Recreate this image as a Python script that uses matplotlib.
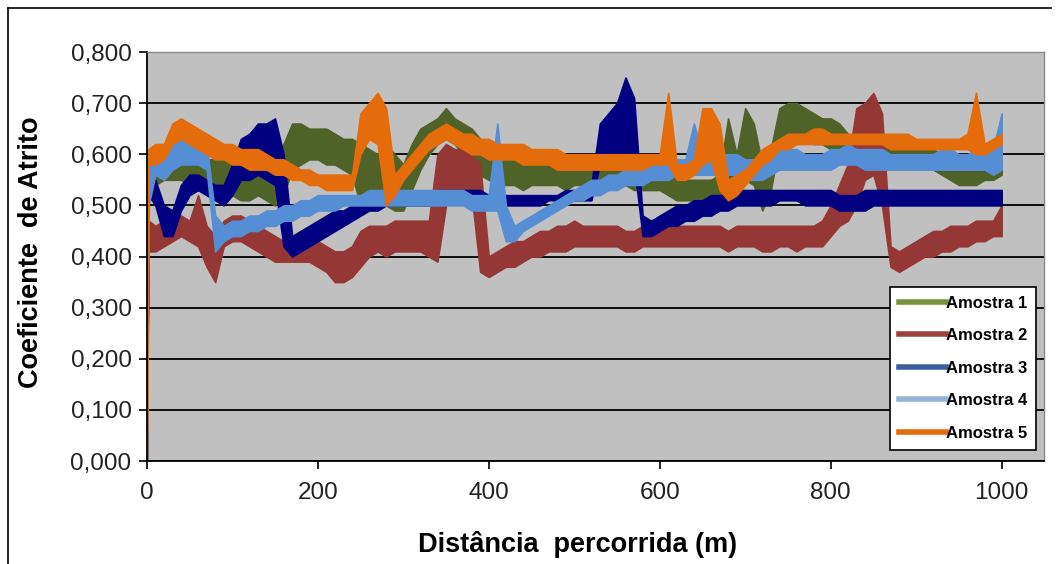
import matplotlib.pyplot as plt
from matplotlib.lines import Line2D
from matplotlib.ticker import FuncFormatter

plt.rcParams['font.family'] = ['Liberation Sans', 'DejaVu Sans']

# distance sampled along the track (m)
distancia = [0, 2, 10, 20, 30, 40, 50, 60, 70, 80, 90, 100,
             110, 120, 130, 140, 150, 160, 170, 180, 190, 200,
             210, 220, 230, 240, 250, 260, 270, 280, 290, 300,
             310, 320, 330, 340, 350, 360, 370, 380, 390, 400,
             410, 420, 430, 440, 450, 460, 470, 480, 490, 500,
             510, 520, 530, 540, 550, 560, 570, 580, 590, 600,
             610, 620, 630, 640, 650, 660, 670, 680, 690, 700,
             710, 720, 730, 740, 750, 760, 770, 780, 790, 800,
             810, 820, 830, 840, 850, 860, 870, 880, 890, 900,
             910, 920, 930, 940, 950, 960, 970, 980, 990, 1000]

# lower / upper edge of the noisy band of each sample
a1_min = [0, 0.52,
          0.54, 0.55, 0.55, 0.55, 0.54, 0.53, 0.53, 0.52, 0.52, 0.52,
          0.51, 0.51, 0.52, 0.51, 0.50, 0.52, 0.57, 0.58, 0.59, 0.59,
          0.58, 0.58, 0.57, 0.56, 0.50, 0.52, 0.50, 0.50, 0.49, 0.49,
          0.53, 0.57, 0.60, 0.62, 0.63, 0.62, 0.60, 0.58, 0.56, 0.55,
          0.54, 0.54, 0.54, 0.53, 0.54, 0.54, 0.54, 0.54, 0.53, 0.54,
          0.54, 0.54, 0.54, 0.54, 0.54, 0.54, 0.53, 0.53, 0.53, 0.53,
          0.52, 0.51, 0.51, 0.51, 0.51, 0.51, 0.51, 0.52, 0.52, 0.55,
          0.54, 0.49, 0.53, 0.62, 0.63, 0.63, 0.63, 0.62, 0.62, 0.61,
          0.60, 0.59, 0.59, 0.59, 0.59, 0.59, 0.59, 0.59, 0.59, 0.59,
          0.58, 0.57, 0.56, 0.55, 0.54, 0.54, 0.54, 0.55, 0.55, 0.56]
a1_max = [0, 0.58,
          0.60, 0.60, 0.61, 0.61, 0.60, 0.60, 0.59, 0.59, 0.59, 0.58,
          0.58, 0.59, 0.58, 0.58, 0.59, 0.62, 0.66, 0.66, 0.65, 0.65,
          0.65, 0.64, 0.63, 0.63, 0.62, 0.61, 0.60, 0.62, 0.60, 0.58,
          0.62, 0.65, 0.66, 0.67, 0.69, 0.67, 0.66, 0.65, 0.63, 0.62,
          0.61, 0.60, 0.60, 0.59, 0.59, 0.59, 0.59, 0.58, 0.58, 0.58,
          0.58, 0.58, 0.58, 0.58, 0.58, 0.57, 0.57, 0.57, 0.57, 0.57,
          0.56, 0.56, 0.55, 0.55, 0.55, 0.55, 0.56, 0.67, 0.60, 0.69,
          0.66, 0.58, 0.61, 0.69, 0.70, 0.70, 0.69, 0.68, 0.67, 0.67,
          0.66, 0.64, 0.63, 0.62, 0.62, 0.62, 0.62, 0.62, 0.62, 0.61,
          0.61, 0.61, 0.60, 0.59, 0.58, 0.58, 0.58, 0.58, 0.59, 0.60]

a2_min = [0, 0.41,
          0.41, 0.42, 0.43, 0.44, 0.43, 0.42, 0.38, 0.35, 0.42, 0.43,
          0.43, 0.42, 0.41, 0.40, 0.39, 0.39, 0.39, 0.39, 0.39, 0.38,
          0.37, 0.35, 0.35, 0.36, 0.38, 0.40, 0.41, 0.40, 0.41, 0.41,
          0.41, 0.41, 0.40, 0.39, 0.50, 0.52, 0.53, 0.52, 0.37, 0.36,
          0.37, 0.38, 0.38, 0.39, 0.40, 0.40, 0.41, 0.41, 0.41, 0.42,
          0.42, 0.42, 0.42, 0.42, 0.42, 0.41, 0.41, 0.42, 0.42, 0.42,
          0.42, 0.42, 0.42, 0.42, 0.42, 0.42, 0.42, 0.41, 0.42, 0.42,
          0.42, 0.41, 0.41, 0.42, 0.42, 0.41, 0.42, 0.42, 0.42, 0.44,
          0.46, 0.47, 0.50, 0.55, 0.56, 0.50, 0.38, 0.37, 0.38, 0.39,
          0.40, 0.40, 0.41, 0.41, 0.42, 0.42, 0.43, 0.43, 0.44, 0.44]
a2_max = [0, 0.47,
          0.46, 0.47, 0.48, 0.48, 0.47, 0.52, 0.46, 0.44, 0.47, 0.48,
          0.48, 0.47, 0.46, 0.45, 0.44, 0.43, 0.43, 0.43, 0.43, 0.43,
          0.42, 0.41, 0.41, 0.42, 0.45, 0.46, 0.46, 0.46, 0.47, 0.47,
          0.47, 0.47, 0.47, 0.60, 0.62, 0.61, 0.61, 0.60, 0.58, 0.40,
          0.41, 0.42, 0.43, 0.43, 0.44, 0.45, 0.45, 0.46, 0.46, 0.47,
          0.46, 0.46, 0.46, 0.46, 0.46, 0.45, 0.45, 0.46, 0.46, 0.46,
          0.46, 0.46, 0.46, 0.46, 0.46, 0.46, 0.46, 0.45, 0.46, 0.46,
          0.46, 0.46, 0.46, 0.46, 0.46, 0.46, 0.46, 0.46, 0.47, 0.50,
          0.54, 0.58, 0.69, 0.70, 0.72, 0.68, 0.42, 0.41, 0.42, 0.43,
          0.44, 0.45, 0.45, 0.46, 0.46, 0.46, 0.47, 0.47, 0.47, 0.50]

a3_min = [0, 0.52,
          0.50, 0.44, 0.44, 0.49, 0.52, 0.53, 0.52, 0.51, 0.50, 0.52,
          0.55, 0.55, 0.56, 0.55, 0.54, 0.42, 0.40, 0.41, 0.42, 0.43,
          0.44, 0.45, 0.46, 0.47, 0.48, 0.49, 0.49, 0.50, 0.50, 0.50,
          0.50, 0.50, 0.50, 0.51, 0.51, 0.51, 0.51, 0.51, 0.51, 0.50,
          0.50, 0.50, 0.50, 0.50, 0.50, 0.50, 0.51, 0.51, 0.51, 0.51,
          0.51, 0.51, 0.58, 0.58, 0.59, 0.59, 0.58, 0.44, 0.44, 0.45,
          0.46, 0.46, 0.47, 0.47, 0.48, 0.48, 0.49, 0.49, 0.50, 0.50,
          0.50, 0.50, 0.50, 0.51, 0.51, 0.51, 0.50, 0.50, 0.50, 0.50,
          0.49, 0.49, 0.49, 0.49, 0.50, 0.50, 0.50, 0.50, 0.50, 0.50,
          0.50, 0.50, 0.50, 0.50, 0.50, 0.50, 0.50, 0.50, 0.50, 0.50]
a3_max = [0, 0.55,
          0.55, 0.50, 0.49, 0.54, 0.56, 0.56, 0.55, 0.54, 0.54, 0.58,
          0.63, 0.64, 0.66, 0.66, 0.67, 0.60, 0.44, 0.45, 0.46, 0.47,
          0.48, 0.49, 0.49, 0.50, 0.50, 0.51, 0.51, 0.52, 0.52, 0.52,
          0.52, 0.52, 0.52, 0.53, 0.53, 0.53, 0.53, 0.53, 0.53, 0.52,
          0.52, 0.52, 0.52, 0.52, 0.52, 0.52, 0.52, 0.52, 0.53, 0.53,
          0.53, 0.54, 0.66, 0.68, 0.70, 0.75, 0.71, 0.48, 0.47, 0.48,
          0.49, 0.50, 0.50, 0.51, 0.51, 0.52, 0.52, 0.52, 0.53, 0.53,
          0.53, 0.53, 0.53, 0.53, 0.53, 0.53, 0.53, 0.53, 0.53, 0.53,
          0.52, 0.52, 0.52, 0.53, 0.53, 0.53, 0.53, 0.53, 0.53, 0.53,
          0.53, 0.53, 0.53, 0.53, 0.53, 0.53, 0.53, 0.53, 0.53, 0.53]

a4_min = [0, 0.50,
          0.56, 0.55, 0.57, 0.58, 0.58, 0.58, 0.57, 0.41, 0.43, 0.44,
          0.44, 0.45, 0.45, 0.46, 0.46, 0.47, 0.47, 0.48, 0.48, 0.49,
          0.49, 0.49, 0.50, 0.50, 0.50, 0.50, 0.50, 0.50, 0.50, 0.50,
          0.50, 0.50, 0.50, 0.50, 0.50, 0.50, 0.50, 0.49, 0.49, 0.49,
          0.49, 0.43, 0.43, 0.45, 0.46, 0.47, 0.48, 0.49, 0.50, 0.51,
          0.51, 0.52, 0.52, 0.53, 0.53, 0.54, 0.54, 0.54, 0.55, 0.55,
          0.55, 0.56, 0.56, 0.56, 0.56, 0.56, 0.56, 0.56, 0.56, 0.55,
          0.55, 0.55, 0.56, 0.57, 0.57, 0.57, 0.57, 0.57, 0.57, 0.57,
          0.58, 0.58, 0.58, 0.57, 0.57, 0.57, 0.57, 0.57, 0.57, 0.57,
          0.57, 0.57, 0.57, 0.57, 0.57, 0.57, 0.57, 0.57, 0.56, 0.57]
a4_max = [0, 0.59,
          0.60, 0.60, 0.62, 0.64, 0.63, 0.62, 0.62, 0.48, 0.46, 0.47,
          0.47, 0.48, 0.48, 0.49, 0.49, 0.50, 0.50, 0.51, 0.51, 0.52,
          0.52, 0.52, 0.52, 0.52, 0.52, 0.53, 0.53, 0.53, 0.53, 0.53,
          0.53, 0.53, 0.53, 0.53, 0.53, 0.53, 0.53, 0.52, 0.52, 0.52,
          0.66, 0.50, 0.46, 0.47, 0.48, 0.49, 0.50, 0.51, 0.52, 0.53,
          0.54, 0.55, 0.55, 0.56, 0.56, 0.57, 0.57, 0.58, 0.58, 0.58,
          0.59, 0.59, 0.59, 0.66, 0.60, 0.60, 0.60, 0.60, 0.60, 0.59,
          0.59, 0.59, 0.60, 0.61, 0.61, 0.61, 0.60, 0.60, 0.60, 0.61,
          0.61, 0.62, 0.61, 0.61, 0.61, 0.61, 0.60, 0.60, 0.60, 0.60,
          0.60, 0.60, 0.61, 0.61, 0.60, 0.60, 0.61, 0.61, 0.61, 0.68]

a5_min = [0, 0.58,
          0.58, 0.59, 0.62, 0.63, 0.62, 0.61, 0.60, 0.59, 0.59, 0.58,
          0.58, 0.57, 0.57, 0.57, 0.56, 0.56, 0.55, 0.55, 0.54, 0.54,
          0.53, 0.53, 0.53, 0.53, 0.60, 0.63, 0.62, 0.50, 0.52, 0.55,
          0.57, 0.59, 0.61, 0.62, 0.63, 0.62, 0.61, 0.60, 0.60, 0.59,
          0.59, 0.59, 0.59, 0.58, 0.58, 0.58, 0.58, 0.57, 0.57, 0.57,
          0.57, 0.57, 0.57, 0.57, 0.57, 0.57, 0.57, 0.57, 0.58, 0.58,
          0.58, 0.55, 0.55, 0.56, 0.58, 0.59, 0.53, 0.51, 0.52, 0.54,
          0.56, 0.58, 0.59, 0.61, 0.61, 0.62, 0.62, 0.62, 0.62, 0.62,
          0.62, 0.62, 0.62, 0.62, 0.62, 0.62, 0.61, 0.61, 0.61, 0.61,
          0.61, 0.61, 0.61, 0.61, 0.61, 0.61, 0.60, 0.60, 0.61, 0.62]
a5_max = [0, 0.61,
          0.62, 0.62, 0.66, 0.67, 0.66, 0.65, 0.64, 0.63, 0.62, 0.62,
          0.61, 0.61, 0.61, 0.60, 0.59, 0.59, 0.58, 0.57, 0.57, 0.56,
          0.56, 0.56, 0.56, 0.56, 0.68, 0.70, 0.72, 0.69, 0.56, 0.58,
          0.60, 0.62, 0.64, 0.65, 0.66, 0.65, 0.64, 0.64, 0.63, 0.63,
          0.62, 0.62, 0.62, 0.62, 0.61, 0.61, 0.61, 0.61, 0.60, 0.60,
          0.60, 0.60, 0.60, 0.60, 0.60, 0.60, 0.60, 0.60, 0.60, 0.60,
          0.72, 0.58, 0.58, 0.59, 0.69, 0.69, 0.66, 0.55, 0.56, 0.57,
          0.59, 0.61, 0.62, 0.63, 0.64, 0.64, 0.64, 0.65, 0.65, 0.64,
          0.64, 0.64, 0.64, 0.64, 0.64, 0.64, 0.64, 0.64, 0.64, 0.63,
          0.63, 0.63, 0.63, 0.63, 0.63, 0.64, 0.72, 0.62, 0.63, 0.64]

amostras = ["Amostra 1", "Amostra 2", "Amostra 3", "Amostra 4", "Amostra 5"]
bandas = [(a1_min, a1_max), (a2_min, a2_max), (a3_min, a3_max),
          (a4_min, a4_max), (a5_min, a5_max)]
cores = ["#4F6228", "#953735", "#000080", "#558ED5", "#E46C0A"]
cores_legenda = ["#77933C", "#A0403E", "#3A5F9A", "#95B3D7", "#E46C0A"]

fig = plt.figure(figsize=(10.56, 5.64), dpi=100)
ax = fig.add_axes([0.139, 0.1826, 0.850, 0.7252])
ax.set_facecolor("#C0C0C0")

for (lo, hi), cor in zip(bandas, cores):
    ax.fill_between(distancia, lo, hi, color=cor, lw=1.2)

ax.set_xlim(0, 1050)
ax.set_ylim(0, 0.8)
ax.set_xticks([0, 200, 400, 600, 800, 1000])
ax.set_yticks([0, 0.1, 0.2, 0.3, 0.4, 0.5, 0.6, 0.7, 0.8])
ax.yaxis.set_major_formatter(FuncFormatter(lambda v, p: f"{v:.3f}".replace(".", ",")))
ax.grid(axis="y", color="black", lw=1.3)
ax.set_axisbelow(True)
ax.tick_params(axis="both", labelsize=17.5, length=6, width=1.2, color="black", labelcolor="#222222")
ax.tick_params(axis="x", pad=9)
ax.tick_params(axis="y", pad=5)
for s in ["left", "bottom"]:
    ax.spines[s].set_color("black")
    ax.spines[s].set_linewidth(1.3)
for s in ["top", "right"]:
    ax.spines[s].set_color("#888888")
    ax.spines[s].set_linewidth(1.0)

ax.set_xlabel("Distância  percorrida (m)", fontsize=19.5, fontweight="bold")
ax.set_ylabel("Coeficiente  de Atrito", fontsize=19.5, fontweight="bold")
ax.xaxis.set_label_coords(0.48, -0.172)
ax.yaxis.set_label_coords(-0.115, 0.51)

handles = [Line2D([], [], color=c, lw=4) for c in cores_legenda]
leg = ax.legend(handles, amostras, loc="lower right", bbox_to_anchor=(0.991, 0.027),
                borderaxespad=0, fancybox=False, framealpha=1, edgecolor="black",
                prop={"size": 12, "weight": "bold"}, handlelength=2.8,
                handletextpad=0.0, labelspacing=1.05, borderpad=0.55)
leg.get_frame().set_linewidth(1.2)

# outer frame of the picture
fig.add_artist(Line2D([0.0076, 0.0076], [0.0, 0.986], color="black", lw=1.2))
fig.add_artist(Line2D([0.0076, 0.995], [0.986, 0.986], color="black", lw=1.2))

fig.savefig("out.png", dpi=100)
